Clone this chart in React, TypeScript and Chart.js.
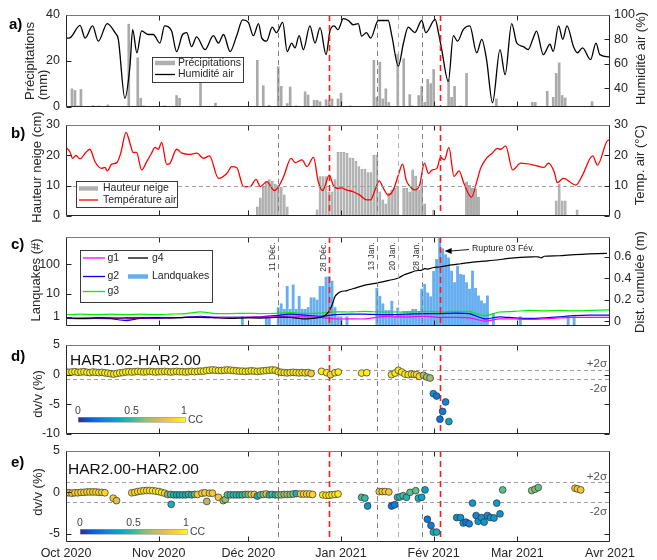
import React, { useEffect, useRef } from "react";
import { Chart, registerables } from "chart.js";
Chart.register(...registerables);

const FONT = "'Liberation Sans', Arial, Helvetica, sans-serif";
const INK = "#262626";

// ---------- time axis (days since 1 Oct 2020) ----------
const MONTH_TICKS = [0, 31, 61, 92, 123, 151, 182];
const MONTH_LABELS = ["Oct 2020", "Nov 2020", "Déc 2020", "Jan 2021", "Fév 2021", "Mar 2021", "Avr 2021"];
const EVENT_DAYS = [71, 88, 104, 111, 119];
const EVENT_LABELS = ["11 Déc.", "28 Déc.", "13 Jan.", "20 Jan.", "28 Jan."];
const RED_DAYS = [88, 125];
const GRAY_DAYS = [71, 104, 111, 119];
const GRAY_COLORS = ["#808080", "#808080", "#b4b4b4", "#808080"];

// ---------- a) precipitation & humidity ----------
const PREC_DAY = [2,3,4,5,9,11,14,21,24,25,26,33,37,38,45,50,64,66,68,71,72,74,75,77,80,81,83,84,85,87,88,89,91,92,95,103,104,105,106,107,108,111,113,115,116,118,119,120,121,122,123,124,128,129,130,132,134,144,156,157,161,163,164,165,166,167,176];
const PREC_MM = [7.9,7.2,0.5,7.6,0.6,0.5,0.9,36,21.4,3.8,0.5,0.5,5,3.8,12,1.7,20.3,9.3,0.8,17.5,9,1.5,8.7,0.5,6.6,5.2,2.9,2.9,2.3,3.2,2.8,3.5,3.5,6,0.5,20.3,4.2,19.5,3.5,7.9,2,23,21,5.4,0.5,5,9,2,12,10.2,16.3,0.5,12,4.2,9,0.5,14.6,3.5,2,2,6.8,4.2,14.6,19.2,5,3.9,2.3];
const HUM_DAY = [0,1.3,4.7,6.4,8.9,10.8,13.8,16.4,17.5,19.7,21.4,22.3,23.7,25.3,27.5,29.2,31.4,33,35.3,37,39,40.4,42,43.7,46.5,49.3,51,52.7,54.9,57.1,59.1,61,62.7,64.4,65.5,67.1,69,70.4,72.5,74,75.5,76.6,78,79.4,81.6,83.3,85,87,88.3,89.7,91,92.8,94.5,96.1,97.8,98.9,100.5,101.9,104.5,107.8,109,111.2,112.9,114.5,116.7,119,120.4,123.5,124.6,125.7,127.9,129.6,131,132.9,135.1,137.4,139.1,140.7,142.7,145.2,146.9,149.1,150.8,153,154.6,156.3,157.4,159.7,161.9,163,164.8,166.2,167.6,169.8,171.1,172.8,175.5,177.3,178.6,182];
const HUM_VAL = [81,81.3,91.5,81,91,78.5,93,85.5,80,31.7,58,88,69,87,84,84,77,91,87,70,84,85.5,74,82,71.6,83,77,84,70,83,96,94,83,93,81,78.5,90,85.5,94,70,77,73,83,71.6,91,77,89.6,67.5,86.8,91,88,97,95.5,92,93,82.6,85.5,81,95.5,95.5,83,58,77,90,85.5,95.5,85.5,96.4,85.5,71.6,45.5,83,78.5,88,91,69,80,63.4,28,71.6,51,93,77,74,71.6,81,86.8,67.5,76,70,91,80,91,74,69,73,63.4,77,67.5,65.6];

// ---------- b) snow & temperature ----------
const SNOW_DAY = [64,65,66,67,68,69,70,71,72,73,74,84,85,86,87,88,89,90,91,92,93,94,95,96,97,98,99,100,101,102,103,104,105,106,107,108,109,110,111,113,114,115,116,117,118,119,120,123,134,135,136,137,138,164,165,166,167,171];
const SNOW_CM = [3,6,9.5,11.3,12,11.5,10.5,10,9.5,7,3,2,13,13,13,8,8,12,21,21,21,20.7,19.2,19,18,16.3,15.4,15.4,14.3,14.3,20.1,20.1,8,5.3,4,7.5,8.6,9.1,9.7,9.1,9.1,8,15.2,13.2,8.6,11.3,4,2,11.3,10.2,9.1,8.9,6.2,5,10.5,5,5,2];
const TEMP_DAY = [0,1.3,2.2,3.3,4.7,6.4,8,9.7,11.9,13,13.8,15.3,17,18.3,20.1,21.4,22.5,23.6,25.3,27,28.6,29.8,30.9,32,33.7,34.8,37,38.8,41,43.8,46,48,51,53.8,55.5,57.1,59.4,61.6,63.6,65,67.2,69.7,71.1,72.8,75.3,76.7,79,80.6,82.8,84.4,85.9,88.1,89.4,91,92.2,93.8,96.1,98.3,100.6,101.9,103.4,104.8,106.2,107.8,109.5,111.2,112.6,113.8,114.9,116.8,118.3,119.9,121.3,122.5,124.1,125.3,126.6,128.1,129.8,131.5,133.1,135.6,137.6,138.7,140.4,142.6,144.3,145.4,147.1,149.4,152.1,156.6,159.9,161.4,163.3,164.4,166.4,170.6,172.8,176.2,177.8,181.4,182];
const TEMP_VAL = [22.6,21.2,19,20,18.8,20.7,22,17.9,15.7,16,14.9,17.1,17.6,20.7,27.6,24,20.9,21,15.2,17.9,20.7,22.6,22,24.3,17,17.4,22,20.7,20.3,20.7,19,19.8,12.4,14,16.3,16,9.7,9.7,12.1,9.7,11.3,8.4,9.7,13,19,17.6,18.5,16.3,19.3,11.3,8.4,13.5,10.2,9.1,9.3,8.6,8,6.9,5.3,5.3,8.6,11.6,9.1,6.9,8.6,13.5,17.1,11.9,9.9,8.6,10.2,17.4,14,15.2,15.7,19.3,18.5,22.6,13,14.9,10.8,6.2,11.9,15.7,18.7,20.7,22.3,22,23.1,15.2,17.4,16.8,16,17.4,14.6,11,12.4,10.2,13.5,19.8,16.8,25,24.8];

// ---------- c) landquakes & cumulative displacement ----------
const LQ_DAY = [59,67,68,71,72,73,74,75,76,77,78,79,80,81,82,83,84,85,86,87,88,89,90,91,92,94,104,105,106,107,108,109,110,111,112,113,114,115,116,117,118,119,120,121,122,123,124,125,126,127,128,129,130,131,132,133,134,135,136,137,138,139,140,141,143,152,168,170];
const LQ_N = [1,1,1,3,4.3,2.5,18.6,2.5,21,2.5,8.3,2.5,2.5,3,7.3,7.3,6,18.6,18.6,38,40,28,3,1,1,1,16,8.3,4.3,2.2,2.2,5.4,1,2.9,1.7,2,2,2,2.5,2.5,2,15,22,11,8,60,147,900,330,210,165,61,25,88,47,45,25,15,61,16,8.6,5.6,4.4,8.6,1.5,1,1,1];
const G_DAY = [0,5,10,15,20,25,30,35,40,45,50,55,60,65,70,75,80,85,90,95,100,105,110,115,120,125,130,135,140,145,150,155,160,165,170,175,182];
const G1 = [0.03,0.028,0.03,0.03,0.02,0.03,0.03,0.032,0.035,0.035,0.035,0.035,0.035,0.038,0.04,0.04,0.04,0.035,0.02,0.02,0.02,0.04,0.04,0.04,0.045,0.035,0.035,0.03,0.0,0.02,0.02,0.015,0.02,0.03,0.035,0.035,0.035];
const G2 = [0.025,0.022,0.025,0.022,0.005,0.025,0.025,0.03,0.035,0.045,0.035,0.035,0.035,0.04,0.05,0.065,0.055,0.045,0.06,0.065,0.065,0.06,0.06,0.065,0.07,0.07,0.075,0.07,0.02,0.04,0.03,0.025,0.03,0.04,0.05,0.055,0.055];
const G3 = [0.06,0.065,0.06,0.065,0.06,0.065,0.06,0.065,0.07,0.085,0.07,0.07,0.072,0.07,0.072,0.078,0.072,0.075,0.085,0.085,0.09,0.085,0.085,0.085,0.09,0.085,0.09,0.09,0.05,0.085,0.09,0.1,0.095,0.1,0.095,0.1,0.105];
const G4_DAY = [0,5,10,15,20,25,30,35,40,45,50,55,60,65,70,75,80,84,86,87,88,89,90,91,92,94,97,100,104,108,111,113,115,117,119,120,121,123,125,128,132,136,140,144,148,152,156,158,159,160,165,170,175,181];
const G4 = [0.03,0.025,0.03,0.028,0.03,0.03,0.032,0.03,0.035,0.035,0.03,0.025,0.03,0.028,0.035,0.035,0.02,0.03,0.04,0.06,0.09,0.15,0.23,0.26,0.275,0.285,0.31,0.335,0.355,0.38,0.4,0.43,0.45,0.47,0.475,0.49,0.485,0.5,0.505,0.52,0.535,0.55,0.56,0.57,0.585,0.595,0.6,0.6,0.59,0.605,0.61,0.62,0.627,0.633];
const LQ_TICKS = [1, 10, 100];
const DIST_TICKS = [0, 0.2, 0.4, 0.6];

// ---------- d) HAR1.02-HAR2.00 ----------
const D_DAILY = [0.45,0.4,0.45,0.5,0.4,0.45,0.5,0.4,0.35,0.45,0.4,0.35,0.4,0.3,0.25,
  0.15,0.1,0.2,0.3,0.35,
  0.45,0.5,0.45,0.5,0.55,0.5,0.45,0.5,0.55,0.5,0.45,0.5,0.5,0.55,0.5,0.45,0.5,0.55,0.5,0.5,0.45,0.5,0.55,0.5,0.55,0.6,0.6,
  0.7,0.75,0.8,0.75,0.7,0.7,0.75,0.8,0.75,0.7,0.65,0.6,
  0.6,0.55,0.6,0.65,0.6,0.55,0.6,0.65,0.7,0.75,0.8,
  0.75,0.5,0.4,0.35,0.3,0.35,0.4,0.35,0.3,0.35,0.3,0.35,
  0.2];
const D_DAILY_CC = [0.97,0.96,0.97,0.97,0.95,0.97,0.96,0.97,0.95,0.97,0.96,0.97,0.95,0.96,0.97,
  0.95,0.96,0.97,0.96,0.95,
  0.97,0.96,0.97,0.97,0.96,0.97,0.95,0.97,0.96,0.97,0.97,0.96,0.97,0.95,0.97,0.96,0.97,0.97,0.96,0.97,0.95,0.97,0.96,0.97,0.97,0.96,0.97,
  0.96,0.97,0.95,0.97,0.96,0.97,0.97,0.96,0.95,0.97,0.96,0.97,
  0.96,0.97,0.95,0.97,0.96,0.97,0.95,0.96,0.97,0.96,0.95,
  0.94,0.95,0.93,0.95,0.94,0.95,0.93,0.94,0.95,0.93,0.94,0.92,
  0.84];
const D_X = [85.5,87.2,88.5,90,91.1,98.9,100.6,108.9,110.1,111.2,112.3,113.4,114.5,115.6,116.5,117.3,118.2,119.6,120.7,121.8,122.9,124,125.1,126,127,128.1];
const D_V = [0.56,0.33,0.0,0.33,0.44,0.27,0.33,0.0,0.27,0.73,0.44,0.1,0.0,0.1,0.05,0.0,-0.28,-0.1,-0.4,-0.56,-3.2,-3.6,-7.5,-6.2,-4.6,-7.9];
const D_C = [0.96,0.95,0.88,0.95,0.96,0.95,0.96,0.92,0.95,0.93,0.95,0.95,0.93,0.95,0.93,0.9,0.9,0.66,0.66,0.65,0.3,0.2,0.18,0.22,0.25,0.36];
const D_SIGMA = [-0.8, 0.73];

// ---------- e) HAR2.00-HAR2.00 ----------
const E_X = [0,1,2,3,4,5,6,7,8,9,10,11,12,13, 15.8,16.9, 22,23,24,25,26,27,28,29,30,31,32,33, 34,35,35.2,36,37,38,39,40,41,42,43,44, 45.5,46.5,47.1,48,49,51,52.6,53.3, 54,55,56,57,58,59,60,61,62, 63,64,65,66,67,68,69,70, 71,72,73,74,75,76,77, 78.5,79.5,80.5,81.5,82.5, 85.9,87,88,89,90,91, 98.9,100,100.9, 104.8,105.8,106.8,108, 108.9,110,110.9,111.7,112.8,113.9,115.1,117,117.9,119,120.1, 120.9,122.1,122.9,124, 130.7,132,132.9,133.8,134.9,136,137.2,137.9,139,139.9,141,142,143.2,144.1,145.2,146.1, 155.8,156.9,158, 170.3,171.1,172.2];
const E_V = [-0.05,-0.05,-0.1,-0.05,-0.05,0,0,0.05,0.05,0.05,0.05,0,0,-0.05, -0.7,-1.0, -0.05,0,0.1,0.15,0.2,0.22,0.22,0.2,0.15,0.1,0,-0.1, -0.25,-0.25,-1.45,-0.3,-0.3,-0.3,-0.3,-0.3,-0.25,-0.3,-0.25,-0.25, -0.1,-0.05,-1.1,-0.1,-0.1,-0.6,-1.0,-0.85, -0.3,-0.3,-0.3,-0.3,-0.3,-0.3,-0.25,-0.25,-0.25, -0.25,-0.45,-0.3,-0.25,-0.2,-0.3,-0.25,-0.3, -0.3,-0.3,-0.25,-0.25,-0.25,-0.2,-0.15, -0.2,-0.2,-0.2,-0.2,-0.25, -0.3,-0.35,-0.35,-0.3,-0.25,-0.2, -0.6,-0.7,-1.65, 0.1,0.1,0.1,0.05, -1.65,-1.5,-0.6,-0.55,-0.4,-0.6,0,0.2,-0.7,-0.6,0.3, -3.25,-4.0,-4.8,-4.8, -3.05,-3.05,-3.7,-3.6,-3.8,-1.3,-2.8,-3.5,-3.05,-3.6,-2.8,-3.05,-3.1,-1.3,-2.6,0.3, 0.22,0.38,0.58, 0.5,0.42,0.3];
const E_C = [0.86,0.86,0.85,0.87,0.88,0.88,0.88,0.88,0.9,0.88,0.9,0.9,0.88,0.9, 0.85,0.78, 0.88,0.9,0.9,0.9,0.92,0.92,0.93,0.95,0.95,0.96,0.95,0.9, 0.6,0.55,0.42,0.45,0.42,0.42,0.45,0.42,0.48,0.45,0.55,0.85, 0.85,0.86,0.68,0.85,0.85,0.84,0.66,0.64, 0.55,0.5,0.48,0.5,0.45,0.5,0.55,0.6,0.84, 0.84,0.42,0.55,0.6,0.82,0.45,0.55,0.42, 0.6,0.62,0.64,0.66,0.6,0.62,0.42, 0.86,0.88,0.87,0.88,0.88, 0.95,0.95,0.94,0.95,0.95,0.95, 0.52,0.5,0.3, 0.85,0.84,0.85,0.83, 0.18,0.22,0.5,0.45,0.52,0.45,0.55,0.56,0.42,0.36,0.34, 0.2,0.22,0.4,0.42, 0.3,0.32,0.33,0.22,0.25,0.33,0.26,0.32,0.3,0.33,0.28,0.3,0.32,0.33,0.3,0.55, 0.62,0.6,0.57, 0.86,0.85,0.83];
const E_SIGMA = [-1.14, 1.23];

// ---------- colormap (parula) ----------
const PARULA = [[53,42,135],[3,99,225],[20,130,213],[6,167,198],[56,185,158],[146,191,115],[217,186,86],[252,206,46],[249,251,14]];
function parula(t: number): string {
  const s = Math.max(0, Math.min(1, t)) * (PARULA.length - 1);
  const i = Math.min(Math.floor(s), PARULA.length - 2);
  const f = s - i;
  const a = PARULA[i], b = PARULA[i + 1];
  return `rgb(${a.map((v, k) => Math.round(v + (b[k] - v) * f)).join(",")})`;
}

// ---------- helpers ----------
const pts = (xs: number[], ys: number[]) => xs.map((x, i) => ({ x, y: ys[i] }));

function xAxis(show: boolean) {
  return {
    type: "linear", min: 0, max: 182, offset: false, display: show,
    grid: { display: false, drawTicks: false }, border: { display: false },
    afterBuildTicks: (s: any) => { s.ticks = MONTH_TICKS.map((v) => ({ value: v })); },
    afterFit: (s: any) => { if (show) s.height = 18; },
    ticks: { autoSkip: false, maxRotation: 0, minRotation: 0, padding: 4, color: INK, font: { family: FONT, size: 12.5 },
      callback: (_v: any, i: number) => MONTH_LABELS[i] },
  };
}
function yAxis(position: string, min: number, max: number, ticks: number[], labels: string[]) {
  return {
    type: "linear", position, min, max,
    grid: { display: false, drawTicks: false }, border: { display: false },
    afterBuildTicks: (s: any) => { s.ticks = ticks.map((v) => ({ value: v })); },
    afterFit: (s: any) => { s.width = position === "left" ? 66 : 47; },
    ticks: { autoSkip: false, padding: position === "left" ? 6 : 4, color: INK, font: { family: FONT, size: 12.5 },
      callback: (_v: any, i: number) => labels[i] },
  };
}
function baseOptions(padTop: number, padBottom: number, padRight: number, scales: any) {
  return {
    animation: false, responsive: false, maintainAspectRatio: false, devicePixelRatio: 1, events: [],
    layout: { padding: { top: padTop, bottom: padBottom, left: 0, right: padRight } },
    plugins: { legend: { display: false }, tooltip: { enabled: false } },
    scales,
  };
}

function text(ctx: any, s: string, x: number, y: number, size: number, align = "left", color = INK, bold = false, baseline = "middle") {
  ctx.save();
  ctx.font = `${bold ? "bold " : ""}${size}px ${FONT}`;
  ctx.fillStyle = color; ctx.textAlign = align; ctx.textBaseline = baseline;
  ctx.fillText(s, x, y);
  ctx.restore();
}
function vtext(ctx: any, s: string, x: number, y: number, size: number, align = "center", baseline = "middle", color = INK) {
  ctx.save();
  ctx.translate(x, y); ctx.rotate(-Math.PI / 2);
  ctx.font = `${size}px ${FONT}`;
  ctx.fillStyle = color; ctx.textAlign = align; ctx.textBaseline = baseline;
  ctx.fillText(s, 0, 0);
  ctx.restore();
}
function legendBox(ctx: any, x0: number, y0: number, x1: number, y1: number) {
  ctx.save();
  ctx.fillStyle = "#fff"; ctx.fillRect(x0, y0, x1 - x0, y1 - y0);
  ctx.strokeStyle = INK; ctx.lineWidth = 0.9; ctx.setLineDash([]);
  ctx.strokeRect(Math.round(x0) + 0.5, Math.round(y0) + 0.5, Math.round(x1 - x0), Math.round(y1 - y0));
  ctx.restore();
}
function legendLine(ctx: any, x0: number, x1: number, y: number, color: string, lw: number) {
  ctx.save();
  ctx.strokeStyle = color; ctx.lineWidth = lw; ctx.setLineDash([]);
  ctx.beginPath(); ctx.moveTo(x0, y); ctx.lineTo(x1, y); ctx.stroke();
  ctx.restore();
}
function eventLines(c: any) {
  const { ctx, chartArea: a, scales } = c;
  ctx.save();
  ctx.lineWidth = 1; ctx.setLineDash([5, 4]);
  GRAY_DAYS.forEach((d, i) => {
    const px = Math.round(scales.x.getPixelForValue(d)) + 0.5;
    ctx.strokeStyle = GRAY_COLORS[i];
    ctx.beginPath(); ctx.moveTo(px, a.top); ctx.lineTo(px, a.bottom); ctx.stroke();
  });
  ctx.strokeStyle = "#ff1a1a"; ctx.lineWidth = 1.6; ctx.setLineDash([6, 4]);
  RED_DAYS.forEach((d) => {
    const px = Math.round(scales.x.getPixelForValue(d)) + 0.5;
    ctx.beginPath(); ctx.moveTo(px, a.top); ctx.lineTo(px, a.bottom); ctx.stroke();
  });
  ctx.restore();
}
function hline(c: any, v: number, scaleId = "y") {
  const { ctx, chartArea: a, scales } = c;
  const py = Math.round(scales[scaleId].getPixelForValue(v)) + 0.5;
  ctx.save();
  ctx.strokeStyle = "#a0a0a0"; ctx.lineWidth = 1; ctx.setLineDash([4, 3]);
  ctx.beginPath(); ctx.moveTo(a.left, py); ctx.lineTo(a.right, py); ctx.stroke();
  ctx.restore();
}
function frame(c: any) {
  const { ctx, chartArea: a, scales } = c;
  const L = Math.round(a.left) + 0.5, R = Math.round(a.right) - 0.5, T = Math.round(a.top) + 0.5, B = Math.round(a.bottom) - 0.5;
  ctx.save();
  ctx.setLineDash([]); ctx.lineWidth = 1; ctx.strokeStyle = INK;
  ctx.beginPath();
  MONTH_TICKS.slice(1, -1).forEach((d) => {
    const px = Math.round(scales.x.getPixelForValue(d)) + 0.5;
    ctx.moveTo(px, B); ctx.lineTo(px, B - 5);
    ctx.moveTo(px, T); ctx.lineTo(px, T + 5);
  });
  scales.y.ticks.forEach((t: any) => {
    const py = Math.round(scales.y.getPixelForValue(t.value)) + 0.5;
    ctx.moveTo(L, py); ctx.lineTo(L + 5, py);
  });
  const rs = scales.y2 || scales.y;
  rs.ticks.forEach((t: any) => {
    const py = Math.round(rs.getPixelForValue(t.value)) + 0.5;
    ctx.moveTo(R, py); ctx.lineTo(R - 5, py);
  });
  ctx.stroke();
  ctx.strokeStyle = "#7a7a7a";
  ctx.beginPath(); ctx.moveTo(L, T); ctx.lineTo(R, T); ctx.stroke();
  ctx.strokeStyle = INK;
  ctx.beginPath(); ctx.moveTo(R, T); ctx.lineTo(R, B); ctx.lineTo(L, B); ctx.lineTo(L, T); ctx.stroke();
  ctx.restore();
}
function colorbar(ctx: any, x0: number, y0: number, w: number, h: number, labelY: number) {
  ctx.save();
  const g = ctx.createLinearGradient(x0, 0, x0 + w, 0);
  PARULA.forEach((c, i) => g.addColorStop(i / (PARULA.length - 1), `rgb(${c.join(",")})`));
  ctx.fillStyle = g; ctx.fillRect(x0, y0, w, h);
  ctx.strokeStyle = "#9a9a9a"; ctx.lineWidth = 0.6; ctx.strokeRect(x0 + 0.5, y0 + 0.5, w, h);
  ctx.restore();
  text(ctx, "0", x0, labelY, 10.5, "center", "#444");
  text(ctx, "0.5", x0 + w / 2, labelY, 10.5, "center", "#444");
  text(ctx, "1", x0 + w - 1, labelY, 10.5, "center", "#444");
  text(ctx, "CC", x0 + w + 3, y0 + h / 2 + 0.5, 10.5, "left", "#444");
}
function mkDeco(top: number, fns: { before?: (c: any, Y: (y: number) => number) => void; after?: (c: any, Y: (y: number) => number) => void; overlay?: (c: any, Y: (y: number) => number) => void; }) {
  const Y = (y: number) => y - top;
  return {
    id: "deco" + top,
    beforeDatasetsDraw(c: any) { if (fns.before) fns.before(c, Y); },
    afterDatasetsDraw(c: any) { if (fns.after) fns.after(c, Y); },
    afterDraw(c: any) { frame(c); if (fns.overlay) fns.overlay(c, Y); },
  };
}

const TOPS = [0, 105, 220, 330, 436];
const HEIGHTS = [125, 125, 120, 118, 124];

function buildConfigs(): any[] {
  const lq = LQ_N.map((n) => Math.log10(1 + n));
  const lqTickVals = LQ_TICKS.map((n) => Math.log10(1 + n));

  const cfgA = {
    type: "bar",
    data: { datasets: [
      { type: "line", data: pts(HUM_DAY, HUM_VAL), yAxisID: "y2", borderColor: "#000", borderWidth: 1.3, pointRadius: 0, cubicInterpolationMode: "monotone", order: 0 },
      { type: "bar", data: pts(PREC_DAY, PREC_MM), yAxisID: "y", backgroundColor: "#aaaaaa", barThickness: 2, order: 1 },
    ] },
    options: baseOptions(15, 18, 0, {
      x: xAxis(false),
      y: yAxis("left", 0, 40, [0, 20, 40], ["0", "20", "40"]),
      y2: yAxis("right", 24.5, 100, [40, 60, 80, 100], ["40", "60", "80", "100"]),
    }),
    plugins: [mkDeco(TOPS[0], {
      after: (c) => eventLines(c),
      overlay: (c, Y) => {
        const ctx = c.ctx;
        text(ctx, "a)", 9, Y(25), 15, "left", "#000", true);
        vtext(ctx, "Précipitations", 30, Y(100), 13, "left");
        vtext(ctx, "(mm)", 43.5, Y(100), 13, "left");
        vtext(ctx, "Humidité air (%)", 641.5, Y(58.5), 13, "center");
        legendBox(ctx, 152, Y(57), 243, Y(82));
        legendLine(ctx, 155, 175, Y(63), "#b0b0b0", 4.5);
        text(ctx, "Précipitations", 178, Y(63), 10.5);
        legendLine(ctx, 155, 175, Y(74.5), "#000", 1.3);
        text(ctx, "Humidité air", 178, Y(74.5), 10.5);
      },
    })],
  };

  const cfgB = {
    type: "bar",
    data: { datasets: [
      { type: "line", data: pts(TEMP_DAY, TEMP_VAL), yAxisID: "y2", borderColor: "#ff0000", borderWidth: 1.3, pointRadius: 0, cubicInterpolationMode: "monotone", order: 0 },
      { type: "bar", data: pts(SNOW_DAY, SNOW_CM), yAxisID: "y", backgroundColor: "#b5b5b5", borderColor: "#9c9c9c", borderWidth: 0.5, barThickness: 2.2, order: 1 },
    ] },
    options: baseOptions(20, 14, 0, {
      x: xAxis(false),
      y: yAxis("left", 0, 30, [0, 10, 20, 30], ["0", "10", "20", "30"]),
      y2: yAxis("right", 0, 30, [0, 10, 20, 30], ["0", "10", "20", "30"]),
    }),
    plugins: [mkDeco(TOPS[1], {
      after: (c) => { hline(c, 10); eventLines(c); },
      overlay: (c, Y) => {
        const ctx = c.ctx;
        text(ctx, "b)", 11, Y(134), 15, "left", "#000", true);
        vtext(ctx, "Hauteur neige (cm)", 37, Y(167), 13, "center");
        vtext(ctx, "Temp. air (°C)", 640.5, Y(165), 13, "center");
        legendBox(ctx, 76, Y(181), 177, Y(207));
        legendLine(ctx, 79, 98, Y(188.5), "#b0b0b0", 4.5);
        text(ctx, "Hauteur neige", 103, Y(188.5), 10.5);
        legendLine(ctx, 79, 98, Y(200), "#ff0000", 1.3);
        text(ctx, "Température air", 103, Y(200), 10.5);
      },
    })],
  };

  const cfgC = {
    type: "bar",
    data: { datasets: [
      { type: "line", data: pts(G4_DAY, G4), yAxisID: "y2", borderColor: "#000", borderWidth: 1.2, pointRadius: 0, tension: 0.2, order: 0 },
      { type: "line", data: pts(G_DAY, G1), yAxisID: "y2", borderColor: "#ff00ff", borderWidth: 1.2, pointRadius: 0, tension: 0.2, order: 1 },
      { type: "line", data: pts(G_DAY, G2), yAxisID: "y2", borderColor: "#0000ff", borderWidth: 1.2, pointRadius: 0, tension: 0.2, order: 2 },
      { type: "line", data: pts(G_DAY, G3), yAxisID: "y2", borderColor: "#00ee00", borderWidth: 1.2, pointRadius: 0, tension: 0.2, order: 3 },
      { type: "bar", data: pts(LQ_DAY, lq), yAxisID: "y", backgroundColor: "#66aef0", barThickness: 2.2, order: 10 },
    ] },
    options: baseOptions(17, 14, 0, {
      x: xAxis(false),
      y: yAxis("left", 0, 2.9, lqTickVals, LQ_TICKS.map(String)),
      y2: yAxis("right", -0.046, 0.785, DIST_TICKS, DIST_TICKS.map(String)),
    }),
    plugins: [mkDeco(TOPS[2], {
      after: (c) => eventLines(c),
      overlay: (c, Y) => {
        const ctx = c.ctx;
        const x = c.scales.x;
        text(ctx, "c)", 11, Y(245), 15, "left", "#000", true);
        vtext(ctx, "Lanquakes (#)", 36, Y(280), 13, "center");
        vtext(ctx, "Dist. cumulée (m)", 640.5, Y(282), 13, "center");
        EVENT_DAYS.forEach((d, i) => {
          vtext(ctx, EVENT_LABELS[i], Math.round(x.getPixelForValue(d)) - 1.5, Y(242.5), 8.5, "right", "bottom", "#333");
        });
        // rupture annotation
        const rx = x.getPixelForValue(125) + 5;
        ctx.save();
        ctx.strokeStyle = "#000"; ctx.lineWidth = 0.9; ctx.setLineDash([]);
        ctx.beginPath(); ctx.moveTo(469, Y(249.5)); ctx.lineTo(rx + 6, Y(251)); ctx.stroke();
        ctx.fillStyle = "#000";
        ctx.beginPath(); ctx.moveTo(rx, Y(251)); ctx.lineTo(rx + 7, Y(248)); ctx.lineTo(rx + 7, Y(254)); ctx.closePath(); ctx.fill();
        ctx.restore();
        text(ctx, "Rupture 03 Fév.", 472, Y(249), 8.8, "left", "#222");
        // legend
        legendBox(ctx, 80, Y(250), 212, Y(302));
        legendLine(ctx, 83, 105, Y(258), "#ff00ff", 1.3);
        text(ctx, "g1", 107.5, Y(258), 10.5);
        legendLine(ctx, 83, 105, Y(276.5), "#0000ff", 1.3);
        text(ctx, "g2", 107.5, Y(276.5), 10.5);
        legendLine(ctx, 83, 105, Y(291.5), "#00ee00", 1.3);
        text(ctx, "g3", 107.5, Y(291.5), 10.5);
        legendLine(ctx, 128, 148, Y(258), "#000", 1.3);
        text(ctx, "g4", 152, Y(258), 10.5);
        legendLine(ctx, 128, 148, Y(276.5), "#66aef0", 4.5);
        text(ctx, "Landquakes", 152, Y(276.5), 10.5);
      },
    })],
  };

  const dPts = [...D_DAILY.map((v, i) => ({ x: i, y: v })), ...pts(D_X, D_V)];
  const dCol = [...D_DAILY_CC, ...D_C].map(parula);
  const cfgD = {
    type: "scatter",
    data: { datasets: [
      { data: dPts, pointBackgroundColor: dCol, backgroundColor: dCol, pointBorderColor: "#303030", pointBorderWidth: 0.7, pointRadius: 3.4 },
    ] },
    options: baseOptions(15, 14, 47, {
      x: xAxis(false),
      y: yAxis("left", -10, 5, [-10, -5, 0, 5], ["-10", "-5", "0", "5"]),
    }),
    plugins: [mkDeco(TOPS[3], {
      before: (c) => { D_SIGMA.forEach((v) => hline(c, v)); eventLines(c); },
      overlay: (c, Y) => {
        const ctx = c.ctx;
        text(ctx, "d)", 11, Y(357), 15, "left", "#000", true);
        vtext(ctx, "dv/v (%)", 38, Y(394), 13, "center");
        text(ctx, "HAR1.02-HAR2.00", 70, Y(361), 15.5, "left", "#111");
        text(ctx, "+2σ", 607, Y(364), 11.5, "right", "#555");
        text(ctx, "-2σ", 607, Y(389), 11.5, "right", "#555");
        colorbar(ctx, 78, Y(417), 107, 5, Y(411));
      },
    })],
  };

  const eCol = E_C.map(parula);
  const cfgE = {
    type: "scatter",
    data: { datasets: [
      { data: pts(E_X, E_V), pointBackgroundColor: eCol, backgroundColor: eCol, pointBorderColor: "#303030", pointBorderWidth: 0.7, pointRadius: 3.4 },
    ] },
    options: baseOptions(15, 0, 47, {
      x: xAxis(true),
      y: yAxis("left", -6, 5, [-5, 0, 5], ["-5", "0", "5"]),
    }),
    plugins: [mkDeco(TOPS[4], {
      before: (c) => { E_SIGMA.forEach((v) => hline(c, v)); eventLines(c); },
      overlay: (c, Y) => {
        const ctx = c.ctx;
        text(ctx, "e)", 11, Y(463), 15, "left", "#000", true);
        vtext(ctx, "dv/v (%)", 38, Y(492), 13, "center");
        text(ctx, "HAR2.00-HAR2.00", 68, Y(470), 15.5, "left", "#111");
        text(ctx, "+2σ", 607, Y(476.5), 11.5, "right", "#555");
        text(ctx, "-2σ", 607, Y(511.5), 11.5, "right", "#555");
        colorbar(ctx, 80, Y(529), 107, 5, Y(523));
      },
    })],
  };

  return [cfgA, cfgB, cfgC, cfgD, cfgE];
}

export default function App() {
  const r0 = useRef<HTMLCanvasElement>(null);
  const r1 = useRef<HTMLCanvasElement>(null);
  const r2 = useRef<HTMLCanvasElement>(null);
  const r3 = useRef<HTMLCanvasElement>(null);
  const r4 = useRef<HTMLCanvasElement>(null);
  const refs = [r0, r1, r2, r3, r4];

  useEffect(() => {
    const cfgs = buildConfigs();
    const charts = cfgs.map((cfg, i) => new Chart(refs[i].current as HTMLCanvasElement, cfg as any));
    return () => charts.forEach((ch) => ch.destroy());
  }, []);

  return (
    <div style={{ position: "absolute", left: 0, top: 0, width: 657, height: 560, background: "#fff", overflow: "hidden" }}>
      {refs.map((r, i) => (
        <canvas key={i} ref={r} width={657} height={HEIGHTS[i]}
          style={{ position: "absolute", left: 0, top: TOPS[i], width: 657, height: HEIGHTS[i] }} />
      ))}
    </div>
  );
}
